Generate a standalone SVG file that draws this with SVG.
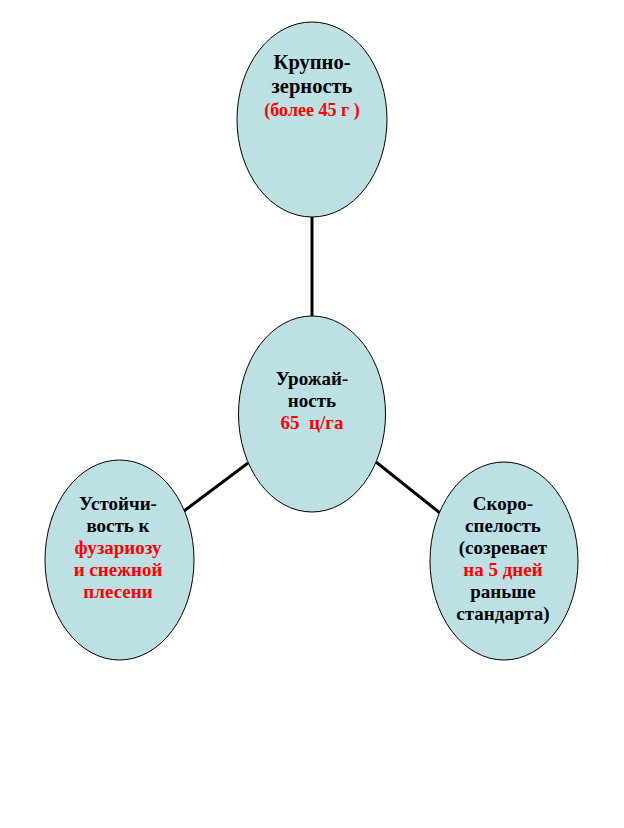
<svg xmlns="http://www.w3.org/2000/svg" width="624" height="828" viewBox="0 0 624 828">
<style>
.node{fill:#BCE0E4;stroke:#000;stroke-width:1}
.t{font-family:"Liberation Serif","Times New Roman",serif;font-weight:bold;font-size:19px;text-anchor:middle;fill:#000}
.r{fill:#FF0000}
.big{font-size:20.5px}
.mid{font-size:18px}
.conn{stroke:#000;stroke-width:3;fill:none}
</style>
<rect width="624" height="828" fill="#fff"/>
<g id="connectors">
<line class="conn" x1="312" y1="217" x2="312" y2="316"/>
<line class="conn" x1="184" y1="511" x2="248" y2="463"/>
<line class="conn" x1="376" y1="462" x2="440" y2="513"/>
</g>
<g id="node-top">
<ellipse class="node" cx="312" cy="119.5" rx="75" ry="97.5"/>
<text class="t big" x="312" y="69">Крупно-</text>
<text class="t big" x="312" y="93">зерность</text>
<text class="t r mid" x="312" y="116">(более 45 г )</text>
</g>
<g id="node-center">
<ellipse class="node" cx="312" cy="414" rx="73.5" ry="98"/>
<text class="t" x="312" y="385">Урожай-</text>
<text class="t" x="312" y="407">ность</text>
<text class="t r" x="312" y="429" xml:space="preserve">65  ц/га</text>
</g>
<g id="node-left">
<ellipse class="node" cx="119.5" cy="560" rx="74.5" ry="100"/>
<text class="t" x="118" y="510">Устойчи-</text>
<text class="t" x="118" y="532">вость к</text>
<text class="t r" x="118" y="554">фузариозу</text>
<text class="t r" x="118" y="576">и снежной</text>
<text class="t r" x="118" y="598">плесени</text>
</g>
<g id="node-right">
<ellipse class="node" cx="504" cy="561" rx="74" ry="99"/>
<text class="t" x="503" y="510">Скоро-</text>
<text class="t" x="503" y="532">спелость</text>
<text class="t" x="503" y="554">(созревает</text>
<text class="t r" x="503" y="576">на 5 дней</text>
<text class="t" x="503" y="598">раньше</text>
<text class="t" x="503" y="620">стандарта)</text>
</g>
</svg>
